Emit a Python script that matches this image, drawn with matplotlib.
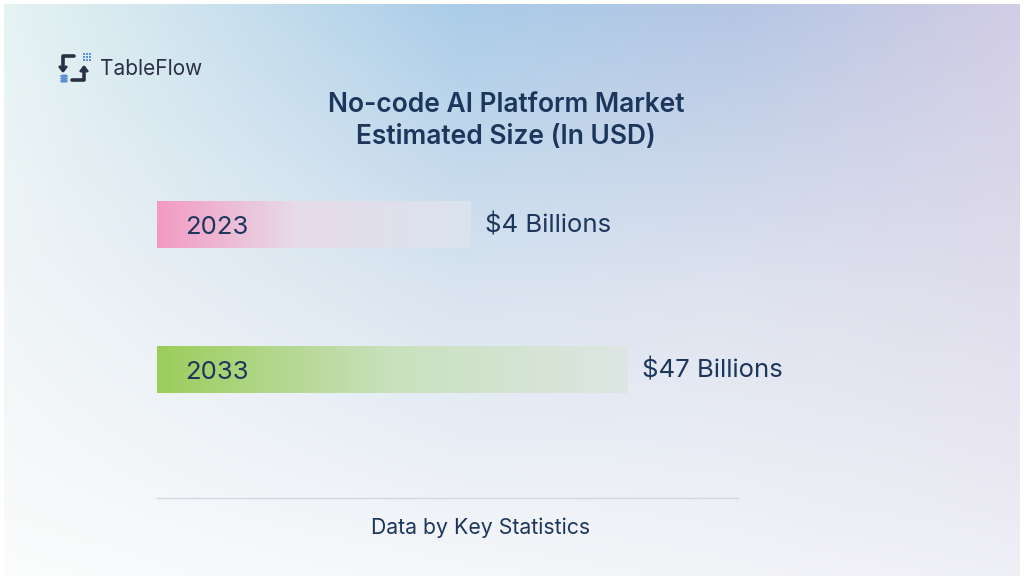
import numpy as np
import matplotlib
matplotlib.use("Agg")
import matplotlib.pyplot as plt
from matplotlib.colors import to_rgb
from matplotlib.patches import Rectangle, Ellipse
from matplotlib.lines import Line2D

# Data
years = ["2023", "2033"]
market_size = [4, 47]  # USD billions
value_labels = ["$4 Billions", "$47 Billions"]
bar_pct = [50, 75]  # displayed bar length, % of track
title = "No-code AI Platform Market\nEstimated Size (In USD)"
source = "Data by Key Statistics"

navy = "#1c365c"
plt.rcParams['font.family'] = ['Inter', 'DejaVu Sans']

W, H = 1024, 580
fig = plt.figure(figsize=(W / 100, H / 100), dpi=100)
fig.patch.set_facecolor("white")


def blend(stops, t):
    # stops: list of (pos, color) -> rgb array for each t
    pos = np.array([s[0] for s in stops])
    cols = np.array([to_rgb(s[1]) for s in stops])
    return np.stack([np.interp(t, pos, cols[:, k]) for k in range(3)], axis=-1)


# Background gradient
xs = np.linspace(0, 1, W)
rows = [
    [(0, "#e6f3f3"), (0.45, "#aacce8"), (0.72, "#b4c6e4"), (1, "#d2cde5")],
    [(0, "#f0f5f7"), (0.45, "#d9e4f0"), (0.72, "#dee3ef"), (1, "#e0ddec")],
    [(0, "#fbfcfc"), (0.45, "#f6f7fa"), (0.72, "#f3f4f8"), (1, "#efeff6")],
]
row_cols = [blend(r, xs) for r in rows]
ys = np.linspace(0, 1, H)[:, None, None]
w_top = np.clip(1 - ys / 0.5, 0, 1)
w_bot = np.clip((ys - 0.5) / 0.5, 0, 1)
w_mid = 1 - w_top - w_bot
bg = w_top * row_cols[0] + w_mid * row_cols[1] + w_bot * row_cols[2]

bg_ax = fig.add_axes([4 / W, 4 / H, 1 - 8 / W, 1 - 8 / H])
bg_ax.imshow(bg, aspect="auto", extent=[0, 1, 0, 1], interpolation="bilinear")
bg_ax.set_axis_off()

# Bars
ax = fig.add_axes([157 / W, 1 - 442 / H, 628 / W, 290 / H])
ax.set_axis_off()
ax.patch.set_alpha(0)

bar_stops = [
    [(0, "#f39ac2"), (0.45, "#e7dbe9"), (1, "#dae3ef")],
    [(0, "#9ccd5b"), (0.5, "#c9e1bd"), (1, "#dde6e4")],
]
bar_h = 0.324
for i, (yr, pct, lab) in enumerate(zip(years, bar_pct, value_labels)):
    grad = blend(bar_stops[i], np.linspace(0, 1, 256))[None, :, :]
    ax.imshow(grad, aspect="auto", extent=[0, pct, i + bar_h / 2, i - bar_h / 2],
              interpolation="bilinear", zorder=2)
    ax.text(4.5, i + 0.02, yr, fontsize=18.5, color=navy, va="center", ha="left", zorder=3)
    ax.text(pct + 2.2, i + 0.01, lab, fontsize=18.5, color=navy, va="center", ha="left")
ax.set_xlim(0, 100)
ax.set_ylim(1.5, -0.5)

# Title
fig.text(506 / W, 1 - 121.5 / H, title, ha="center", va="center", fontsize=19,
         fontweight="semibold", color=navy, linespacing=1.3)

# Separator and source
fig.add_artist(Line2D([157 / W, 738 / W], [1 - 498 / H, 1 - 498 / H],
                      color="#d3d9e3", lw=1))
fig.text(481 / W, 1 - 528 / H, source, ha="center", va="center", fontsize=15.3,
         color=navy)

# Logo
dark = "#2b2f45"
blue = "#5b8fd6"
tr = fig.transFigure


def fx(x):
    return x / W


def fy(y):
    return 1 - y / H


fig.add_artist(Line2D([fx(74), fx(63), fx(63)], [fy(56), fy(56), fy(70)],
                      color=dark, lw=2.6, solid_capstyle="round"))
fig.add_artist(Line2D([fx(60), fx(63), fx(66)], [fy(67), fy(71), fy(67)],
                      color=dark, lw=2.0))
fig.add_artist(Line2D([fx(72), fx(84), fx(84)], [fy(80), fy(80), fy(68)],
                      color=dark, lw=2.6, solid_capstyle="round"))
fig.add_artist(Line2D([fx(81), fx(84), fx(87)], [fy(71), fy(67), fy(71)],
                      color=dark, lw=2.0))
for gx in range(3):
    for gy in range(3):
        fig.add_artist(Rectangle((fx(83 + gx * 3), fy(53 + gy * 3 + 2.4)), 2.4 / W, 2.4 / H,
                                 transform=tr, color=blue, lw=0))
for k in range(3):
    fig.add_artist(Ellipse((fx(64), fy(76 + k * 2.6)), 8 / W, 3 / H,
                           transform=tr, color=blue, lw=0))
fig.text(fx(100), fy(69), "TableFlow", ha="left", va="center", fontsize=15,
         color=dark)

fig.savefig("out.png", dpi=100, facecolor="white")
